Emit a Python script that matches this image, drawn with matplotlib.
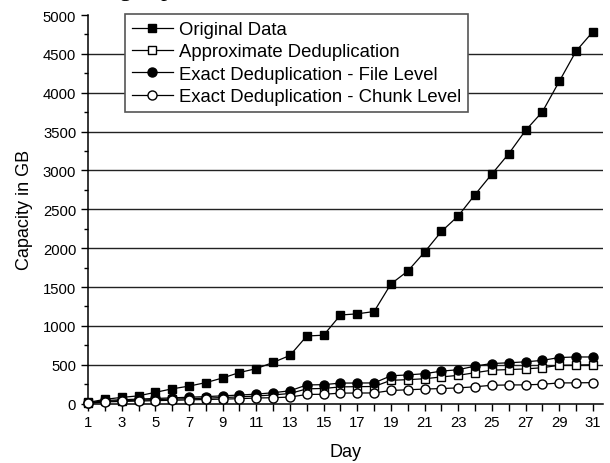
import matplotlib
matplotlib.use("Agg")
import matplotlib.pyplot as plt
from matplotlib.ticker import MultipleLocator

days = list(range(1, 32))
original = [15, 55, 80, 100, 145, 190, 225, 270, 330, 400, 450, 530, 620, 870, 880,
            1140, 1155, 1185, 1540, 1705, 1950, 2215, 2415, 2690, 2955, 3215, 3515,
            3755, 4145, 4535, 4785]
approx = [5, 30, 38, 45, 52, 58, 64, 70, 78, 86, 98, 112, 130, 190, 195,
          215, 218, 220, 300, 308, 320, 343, 364, 398, 430, 438, 446, 462, 494, 496, 500]
file_level = [8, 40, 50, 58, 66, 74, 82, 90, 100, 110, 122, 140, 165, 240, 244,
              264, 265, 266, 358, 369, 385, 418, 436, 483, 516, 525, 538, 556, 593, 600, 600]
chunk_level = [3, 22, 28, 33, 38, 43, 48, 53, 58, 63, 72, 76, 84, 118, 120,
               135, 136, 137, 169, 178, 187, 194, 202, 217, 236, 240, 241, 249, 266, 267, 270]
labels = ["Original Data", "Approximate Deduplication",
          "Exact Deduplication - File Level", "Exact Deduplication - Chunk Level"]

plt.rcParams['font.family'] = ['Liberation Sans', 'DejaVu Sans']

fig = plt.figure(figsize=(6.10, 4.64), dpi=100)
ax = fig.add_axes([0.1443, 0.128, 0.8442, 0.8375])

for y in range(500, 5000, 500):
    ax.axhline(y, color='#222222', lw=1.0, zorder=1)

ax.plot(days, original, '-s', color='black', mfc='black', mec='black', ms=5.5, lw=0.9,
        label=labels[0], zorder=3, clip_on=False)
ax.plot(days, approx, '-s', color='black', mfc='white', mec='black', ms=5.5, lw=0.9,
        label=labels[1], zorder=3, clip_on=False)
ax.plot(days, file_level, '-o', color='black', mfc='black', mec='black', ms=6.5, lw=0.9,
        label=labels[2], zorder=4, clip_on=False)
ax.plot(days, chunk_level, '-o', color='black', mfc='white', mec='black', ms=6.5, lw=0.9,
        label=labels[3], zorder=5, clip_on=False)

ax.set_xlim(1, 31.6)
ax.set_ylim(0, 5000)
ax.set_xticks(days)
ax.set_xticklabels([str(d) if d % 2 == 1 else '' for d in days])
ax.yaxis.set_major_locator(MultipleLocator(500))
ax.yaxis.set_minor_locator(MultipleLocator(250))
ax.tick_params(axis='both', which='major', direction='out', length=5, width=1,
               labelsize=10.7, color='black')
ax.tick_params(axis='y', which='minor', direction='out', length=3, width=1)
for s in ['top', 'right']:
    ax.spines[s].set_visible(False)
for s in ['left', 'bottom']:
    ax.spines[s].set_linewidth(1.1)

ax.set_ylabel('Capacity in GB', fontsize=13, labelpad=7)
ax.set_xlabel('Day', fontsize=13, labelpad=10)

leg = ax.legend(loc='upper left', bbox_to_anchor=(125/610, 1 - 15/464),
                bbox_transform=fig.transFigure, fontsize=13.3, frameon=True,
                fancybox=False, edgecolor='#555555', framealpha=1,
                handlelength=2.2, handletextpad=0.32, labelspacing=0.29,
                borderpad=0.38, borderaxespad=0)
leg.get_frame().set_linewidth(1.2)

fig.text(140/610, 1 + 4/464, 'ng   up', family='Liberation Serif', fontsize=17,
         ha='center', va='baseline')

fig.savefig('out.png', dpi=100, facecolor='white')
